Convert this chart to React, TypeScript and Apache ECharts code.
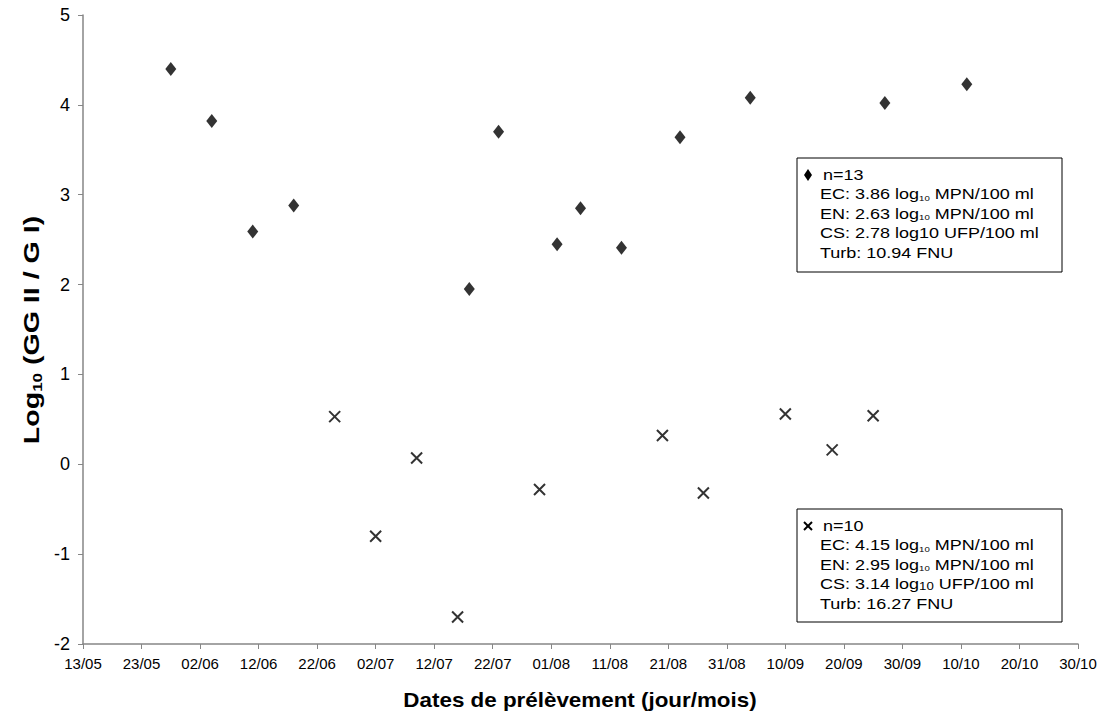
import React, { useEffect, useRef } from "react";
import * as echarts from "echarts";

// ---- Data ----
const YEAR = 2010;
const START_DATE = "13/05";
const END_DATE = "30/10";

// Series 1 (diamonds, n=13)
const diamondDates = ["28/05", "04/06", "11/06", "18/06", "18/07", "23/07", "02/08", "06/08", "13/08", "23/08", "04/09", "27/09", "11/10"];
const diamondValues = [4.40, 3.82, 2.59, 2.88, 1.95, 3.70, 2.45, 2.85, 2.41, 3.64, 4.08, 4.02, 4.23];

// Series 2 (crosses, n=10)
const crossDates = ["25/06", "02/07", "09/07", "16/07", "30/07", "20/08", "27/08", "10/09", "18/09", "25/09"];
const crossValues = [0.53, -0.80, 0.07, -1.70, -0.28, 0.32, -0.32, 0.56, 0.16, 0.54];

const yTicks = { min: -2, max: 5, interval: 1 };

const legend1Lines = [
  "n=13",
  "EC: 3.86 log{s|10} MPN/100 ml",
  "EN: 2.63 log{s|10} MPN/100 ml",
  "CS: 2.78 log10 UFP/100 ml",
  "Turb: 10.94 FNU",
];
const legend2Lines = [
  "n=10",
  "EC: 4.15 log{s|10} MPN/100 ml",
  "EN: 2.95 log{s|10} MPN/100 ml",
  "CS: 3.14 log{sub|10} UFP/100 ml",
  "Turb: 16.27 FNU",
];

const xTitle = "Dates de prélèvement (jour/mois)";

// ---- helpers ----
const DAY = 86400000;
function toUTC(s: string) {
  const [d, m] = s.split("/").map(Number);
  return Date.UTC(YEAR, m - 1, d);
}
const startUTC = toUTC(START_DATE);
const dayOffset = (s: string) => Math.round((toUTC(s) - startUTC) / DAY);
const maxDay = dayOffset(END_DATE);
function fmtDay(v: number) {
  const dt = new Date(startUTC + v * DAY);
  const dd = String(dt.getUTCDate()).padStart(2, "0");
  const mm = String(dt.getUTCMonth() + 1).padStart(2, "0");
  return `${dd}/${mm}`;
}

const FONT = 'Arial, "Liberation Sans", sans-serif';
const AXIS_COLOR = "#868686";
const CROSS_PATH = "path://M0,0 L10,10 M10,0 L0,10";
const STRETCH = 1.2;

function legendBox(x: number, y: number, w: number, h: number, lines: string[], marker: any) {
  const children: any[] = [
    {
      type: "rect",
      shape: { x, y, width: w, height: h },
      style: { fill: "#fff", stroke: "#000", lineWidth: 1 },
    },
    marker,
  ];
  lines.forEach((t, i) => {
    children.push({
      type: "text",
      x: x + 23 + (i === 0 ? 3 : 0),
      y: y + 17 + i * 19.5,
      scaleX: STRETCH,
      style: {
        text: t,
        fontFamily: FONT,
        fontSize: 15,
        fill: "#000",
        verticalAlign: "middle",
        rich: {
          s: { fontSize: 8, fontFamily: FONT, verticalAlign: "bottom", lineHeight: 13 },
          sub: { fontSize: 11, fontFamily: FONT, verticalAlign: "bottom", lineHeight: 9 },
        },
      },
    });
  });
  return { type: "group", children };
}

export default function App() {
  const ref = useRef<HTMLDivElement>(null);
  useEffect(() => {
    if (!ref.current) return;
    const chart = echarts.init(ref.current, null, { renderer: "svg" });
    const option: any = {
      animation: false,
      backgroundColor: "#fff",
      grid: { left: 83, right: 31, top: 15, bottom: 75, containLabel: false },
      xAxis: {
        type: "value",
        min: 0,
        max: maxDay,
        interval: 10,
        axisLine: { show: true, onZero: false, lineStyle: { color: AXIS_COLOR, width: 1.5 } },
        axisTick: { show: true, length: 5, lineStyle: { color: AXIS_COLOR, width: 1 } },
        splitLine: { show: false },
        axisLabel: {
          formatter: (v: number) => fmtDay(v),
          fontFamily: FONT,
          fontSize: 15,
          color: "#000",
          margin: 12,
          showMinLabel: true,
          showMaxLabel: true,
        },
      },
      yAxis: {
        type: "value",
        min: yTicks.min,
        max: yTicks.max,
        interval: yTicks.interval,
        axisLine: { show: true, onZero: false, lineStyle: { color: AXIS_COLOR, width: 1.5 } },
        axisTick: { show: true, length: 5, lineStyle: { color: AXIS_COLOR, width: 1 } },
        splitLine: { show: false },
        axisLabel: { fontFamily: FONT, fontSize: 18, color: "#000", margin: 13 },
      },
      series: [
        {
          type: "scatter",
          name: "n=13",
          symbol: "diamond",
          symbolSize: [11, 14],
          itemStyle: { color: "#000" },
          data: diamondDates.map((d, i) => [dayOffset(d), diamondValues[i]]),
        },
        {
          type: "scatter",
          name: "n=10",
          symbol: CROSS_PATH,
          symbolSize: 11,
          itemStyle: { color: "none", borderColor: "#000", borderWidth: 2 },
          data: crossDates.map((d, i) => [dayOffset(d), crossValues[i]]),
        },
      ],
      graphic: [
        {
          type: "text",
          x: 31,
          y: 330,
          rotation: Math.PI / 2,
          scaleX: 1.3,
          style: {
            text: "{a|Log}{s|10}{a| (GG II / G I)}",
            align: "center",
            verticalAlign: "middle",
            rich: {
              a: { fontFamily: FONT, fontWeight: "bold", fontSize: 22, lineHeight: 25 },
              s: { fontFamily: FONT, fontWeight: "bold", fontSize: 13, verticalAlign: "bottom", lineHeight: 18 },
            },
          },
        },
        {
          type: "text",
          x: 580,
          y: 700,
          scaleX: 1.12,
          style: {
            text: xTitle,
            fontFamily: FONT,
            fontWeight: "bold",
            fontSize: 20,
            align: "center",
            verticalAlign: "middle",
            fill: "#000",
          },
        },
        legendBox(797, 158, 265, 114, legend1Lines, {
          type: "polygon",
          shape: { points: [[808, 169], [812, 175], [808, 181], [804, 175]] },
          style: { fill: "#000" },
        }),
        legendBox(797, 509, 265, 113, legend2Lines, {
          type: "group",
          children: [
            { type: "line", shape: { x1: 804, y1: 522, x2: 812, y2: 530 }, style: { stroke: "#000", lineWidth: 2 } },
            { type: "line", shape: { x1: 812, y1: 522, x2: 804, y2: 530 }, style: { stroke: "#000", lineWidth: 2 } },
          ],
        }),
      ],
    };
    chart.setOption(option);
    return () => chart.dispose();
  }, []);
  return (
    <div
      ref={ref}
      style={{ position: "fixed", left: 0, top: 0, width: 1109, height: 719, background: "#fff" }}
    />
  );
}
